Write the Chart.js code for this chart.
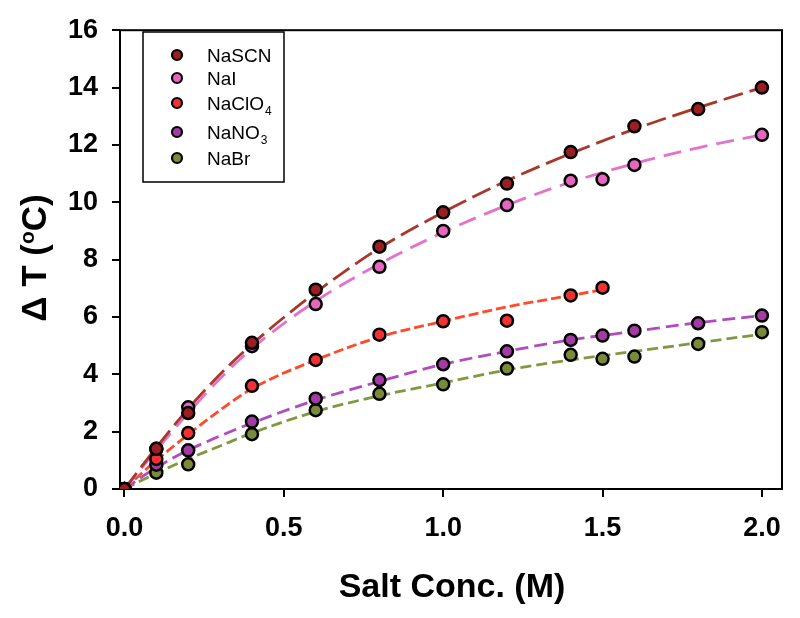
<!DOCTYPE html>
<html>
<head>
<meta charset="utf-8">
<script src="https://cdn.jsdelivr.net/npm/chart.js@4.4.0/dist/chart.umd.min.js"></script>
<style>
body { margin: 0; background: #fff; }
#wrap { width: 800px; height: 618px; }
</style>
</head>
<body>
<div id="wrap"><canvas id="myChart" width="800" height="618"></canvas></div>
<script>
// measured points (x = salt conc. in M, y = delta T in C)
const xSCN = [0, 0.1, 0.2, 0.4, 0.6, 0.8, 1.0, 1.2, 1.4, 1.6, 1.8, 2.0];
const ySCN = [0, 1.4, 2.65, 5.1, 6.95, 8.45, 9.65, 10.65, 11.75, 12.65, 13.25, 14.0];
const xNaI = [0, 0.1, 0.2, 0.4, 0.6, 0.8, 1.0, 1.2, 1.4, 1.5, 1.6, 2.0];
const yNaI = [0, 1.4, 2.85, 4.98, 6.45, 7.75, 9.0, 9.9, 10.75, 10.8, 11.3, 12.35];
const xClO4 = [0, 0.1, 0.2, 0.4, 0.6, 0.8, 1.0, 1.2, 1.4, 1.5];
const yClO4 = [0, 1.05, 1.95, 3.6, 4.5, 5.38, 5.85, 5.87, 6.75, 7.02];
const xNO3 = [0, 0.1, 0.2, 0.4, 0.6, 0.8, 1.0, 1.2, 1.4, 1.5, 1.6, 1.8, 2.0];
const yNO3 = [0, 0.85, 1.35, 2.35, 3.15, 3.8, 4.35, 4.8, 5.2, 5.35, 5.52, 5.78, 6.05];
const xBr = [0, 0.1, 0.2, 0.4, 0.6, 0.8, 1.0, 1.2, 1.4, 1.5, 1.6, 1.8, 2.0];
const yBr = [0, 0.57, 0.86, 1.91, 2.75, 3.32, 3.65, 4.2, 4.68, 4.54, 4.62, 5.06, 5.47];

// dashed fit curves
const fitX = [0, 0.1, 0.2, 0.3, 0.4, 0.6, 0.8, 1.0, 1.2, 1.4, 1.6, 1.8, 2.0];
const fitSCN = [0, 1.45, 2.8, 4.0, 5.05, 6.85, 8.4, 9.65, 10.75, 11.7, 12.55, 13.3, 14.0];
const fitNaI = [0, 1.35, 2.65, 3.85, 4.9, 6.55, 7.85, 8.95, 9.9, 10.7, 11.35, 11.9, 12.35];
const fitXClO4 = [0, 0.1, 0.2, 0.3, 0.4, 0.6, 0.8, 1.0, 1.2, 1.4, 1.5];
const fitClO4 = [0, 1.0, 1.9, 2.75, 3.5, 4.5, 5.3, 5.85, 6.35, 6.75, 6.95];
const fitNO3 = [0, 0.75, 1.35, 1.85, 2.3, 3.1, 3.75, 4.35, 4.8, 5.2, 5.5, 5.8, 6.05];
const fitBr = [0, 0.55, 1.05, 1.5, 1.95, 2.7, 3.25, 3.7, 4.15, 4.5, 4.8, 5.1, 5.4];

const xTicks = [0, 0.5, 1.0, 1.5, 2.0];
const labels = ['NaSCN', 'NaI', 'NaClO', 'NaNO', 'NaBr'];
const subs = ['', '', '4', '3', ''];

const FONT = '"Liberation Sans", Arial, sans-serif';
const fills = ['#9a1e22', '#e466bf', '#f23232', '#a23ca4', '#7b8a38'];
const lines = ['#a8382c', '#e272cc', '#ff4a2a', '#b04cc0', '#7f9a3e'];
const dashes = [[20, 7], [18, 9], [10, 4], [13, 6], [11, 5]];

function pts(xs, ys) {
  return xs.map((x, i) => ({ x: x, y: ys[i] }));
}

const pointSets = [[xSCN, ySCN], [xNaI, yNaI], [xClO4, yClO4], [xNO3, yNO3], [xBr, yBr]];
const fitSets = [[fitX, fitSCN], [fitX, fitNaI], [fitXClO4, fitClO4], [fitX, fitNO3], [fitX, fitBr]];

const datasets = [];
fitSets.forEach((f, i) => {
  datasets.push({
    label: labels[i] + subs[i] + ' fit',
    data: pts(f[0], f[1]),
    showLine: true,
    borderColor: lines[i],
    borderWidth: 2.8,
    borderDash: dashes[i],
    pointRadius: 0,
    cubicInterpolationMode: 'monotone',
    fill: false,
    order: 2
  });
});
pointSets.forEach((p, i) => {
  datasets.push({
    label: labels[i] + subs[i],
    data: pts(p[0], p[1]),
    showLine: false,
    pointRadius: 6,
    pointBorderWidth: 2.5,
    pointBorderColor: '#000',
    pointBackgroundColor: fills[i],
    order: 1
  });
});

const decor = {
  id: 'decor',
  beforeDatasetsDraw(chart) {
    const { ctx, chartArea: a } = chart;
    ctx.save();
    ctx.strokeStyle = '#000';
    ctx.lineWidth = 2;
    ctx.strokeRect(a.left, a.top, a.right - a.left, a.bottom - a.top);
    ctx.restore();
  },
  afterDraw(chart) {
    const ctx = chart.ctx;
    ctx.save();
    ctx.fillStyle = '#000';

    // legend box
    ctx.strokeStyle = '#000';
    ctx.lineWidth = 1.5;
    ctx.strokeRect(143, 32, 141, 150);
    const rows = [55, 78, 103, 132, 158];
    rows.forEach((y, i) => {
      ctx.beginPath();
      ctx.arc(177, y, 5, 0, Math.PI * 2);
      ctx.fillStyle = fills[i];
      ctx.fill();
      ctx.lineWidth = 2.2;
      ctx.stroke();
      ctx.fillStyle = '#000';
      ctx.textBaseline = 'alphabetic';
      ctx.font = '19px ' + FONT;
      ctx.fillText(labels[i], 207, y + 7);
      if (subs[i]) {
        const w = ctx.measureText(labels[i]).width;
        ctx.font = '12px ' + FONT;
        ctx.fillText(subs[i], 207 + w + 1, y + 12);
      }
    });

    // x title
    ctx.font = 'bold 34px ' + FONT;
    ctx.textAlign = 'center';
    ctx.textBaseline = 'alphabetic';
    ctx.fillText('Salt Conc. (M)', 452, 597);

    // y title with raised o
    ctx.translate(34, 258);
    ctx.rotate(-Math.PI / 2);
    ctx.textAlign = 'left';
    const big = 'bold 35px ' + FONT;
    const small = 'bold 21px ' + FONT;
    const parts = [['\u0394 T (', big, 12], ['o', small, 0], ['C)', big, 12]];
    let total = 0;
    parts.forEach(p => { ctx.font = p[1]; total += ctx.measureText(p[0]).width; });
    let x = -total / 2;
    parts.forEach(p => {
      ctx.font = p[1];
      ctx.fillText(p[0], x, p[2]);
      x += ctx.measureText(p[0]).width;
    });
    ctx.restore();
  }
};

const ctx = document.getElementById('myChart').getContext('2d');
const chart = new Chart(ctx, {
  type: 'scatter',
  data: { datasets: datasets },
  options: {
    responsive: false,
    animation: false,
    events: [],
    layout: { padding: { top: 23, right: 18, left: 0, bottom: 0 } },
    plugins: {
      legend: { display: false },
      tooltip: { enabled: false }
    },
    scales: {
      x: {
        type: 'linear',
        min: -0.014,
        max: 2.063,
        afterFit: s => { s.height = 129; },
        afterBuildTicks: s => { s.ticks = xTicks.map(v => ({ value: v })); },
        ticks: {
          callback: v => v.toFixed(1),
          font: { family: FONT, size: 27, weight: 'bold' },
          color: '#000',
          padding: 15,
          autoSkip: false,
          maxRotation: 0
        },
        grid: { drawOnChartArea: false, drawTicks: true, tickLength: 8, color: '#000', lineWidth: 2 },
        border: { display: false }
      },
      y: {
        min: 0,
        max: 16,
        afterFit: s => { s.width = 120; },
        ticks: {
          stepSize: 2,
          font: { family: FONT, size: 27, weight: 'bold' },
          color: '#000',
          padding: 14,
          autoSkip: false
        },
        grid: { drawOnChartArea: false, drawTicks: true, tickLength: 8, color: '#000', lineWidth: 2 },
        border: { display: false }
      }
    }
  },
  plugins: [decor]
});
</script>
</body>
</html>
